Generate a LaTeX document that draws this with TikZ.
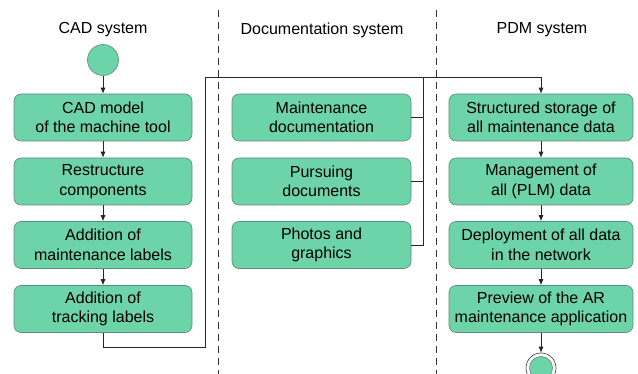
\documentclass[tikz,border=0pt]{standalone}
\usepackage{fontspec}
\setmainfont{Liberation Sans}
\usetikzlibrary{arrows.meta}
\definecolor{boxfill}{HTML}{6DD3A8}
\definecolor{boxedge}{HTML}{5E8C78}
\begin{document}
\begin{tikzpicture}[x=1pt,y=-1pt,
  act/.style={draw=boxedge,fill=boxfill,rounded corners=7pt,minimum height=47pt,align=center,font=\fontsize{16}{19.5}\selectfont,inner sep=0pt,line width=0.6pt},
  hdr/.style={font=\fontsize{16}{19}\selectfont},
  conn/.style={draw=black!85,line width=0.7pt},
  arr/.style={conn,-{Latex[length=6pt,width=5pt]}},
  lane/.style={draw=black!80,dash pattern=on 7pt off 5pt,line width=0.6pt}]
\useasboundingbox (0,0) rectangle (638,374);
\draw[lane] (218,10) -- (218,374);
\draw[lane] (436,10) -- (436,374);
\node[hdr] (h1) at (103,30) {CAD system};
\node[hdr] (h2) at (322,30) {Documentation system};
\node[hdr] (h3) at (542,30) {PDM system};
\node[circle,draw=boxedge,fill=boxfill,minimum size=31pt,inner sep=0pt,line width=0.6pt] (start) at (103,60) {};
\node[act,minimum width=178pt] (c1) at (103,117.5) {CAD model\\of the machine tool};
\node[act,minimum width=178pt] (c2) at (103,181.5) {Restructure\\components};
\node[act,minimum width=178pt] (c3) at (103,245) {Addition of\\maintenance labels};
\node[act,minimum width=178pt] (c4) at (103,309) {Addition of\\tracking labels};
\node[act,minimum width=179pt] (d1) at (321.5,117.5) {Maintenance\\documentation};
\node[act,minimum width=179pt] (d2) at (321.5,181.5) {Pursuing\\documents};
\node[act,minimum width=179pt] (d3) at (321.5,245) {Photos and\\graphics};
\node[act,minimum width=184pt] (p1) at (541,117.5) {Structured storage of\\all maintenance data};
\node[act,minimum width=184pt] (p2) at (541,181.5) {Management of\\all (PLM) data};
\node[act,minimum width=184pt] (p3) at (541,245) {Deployment of all data\\in the network};
\node[act,minimum width=184pt] (p4) at (541,309) {Preview of the AR\\maintenance application};
\node[circle,draw=black!80,fill=white,minimum size=30pt,inner sep=0pt,line width=0.6pt] (endo) at (541,368) {};
\node[circle,draw=boxedge,fill=boxfill,minimum size=23pt,inner sep=0pt,line width=0.6pt] (endi) at (541,368) {};
\coordinate (j1) at (423,77);
\draw[arr] (start) -- (c1);
\draw[arr] (c1) -- (c2);
\draw[arr] (c2) -- (c3);
\draw[arr] (c3) -- (c4);
\draw[arr] (c4.south) -- ++(0,15) -| (205,77) -- (541,77) -- (p1.north);
\draw[conn] (d1.east) -| (j1);
\draw[conn] (d2.east) -| (j1);
\draw[conn] (d3.east) -| (j1);
\draw[arr] (p1) -- (p2);
\draw[arr] (p2) -- (p3);
\draw[arr] (p3) -- (p4);
\draw[arr] (p4) -- (endo);
\end{tikzpicture}
\end{document}
